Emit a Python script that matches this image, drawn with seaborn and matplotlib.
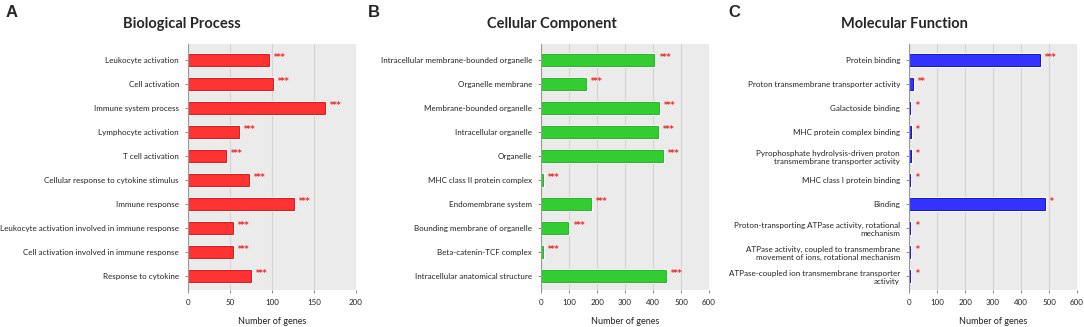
import pandas as pd
import seaborn as sns
import matplotlib.pyplot as plt
import matplotlib.patheffects as pe

bp_terms = ['Leukocyte activation', 'Cell activation', 'Immune system process',
            'Lymphocyte activation', 'T cell activation',
            'Cellular response to cytokine stimulus', 'Immune response',
            'Leukocyte activation involved in immune response',
            'Cell activation involved in immune response', 'Response to cytokine']
bp_counts = [96, 101, 163, 61, 45, 73, 126, 54, 54, 75]
bp_stars = ['***'] * 10

cc_terms = ['Intracellular membrane-bounded organelle', 'Organelle membrane',
            'Membrane-bounded organelle', 'Intracellular organelle', 'Organelle',
            'MHC class II protein complex', 'Endomembrane system',
            'Bounding membrane of organelle', 'Beta-catenin-TCF complex',
            'Intracellular anatomical structure']
cc_counts = [405, 160, 422, 418, 435, 6, 178, 98, 6, 447]
cc_stars = ['***'] * 10

mf_terms = ['Protein binding', 'Proton transmembrane transporter activity',
            'Galactoside binding', 'MHC protein complex binding',
            'Pyrophosphate hydrolysis-driven proton\ntransmembrane transporter activity',
            'MHC class I protein binding', 'Binding',
            'Proton-transporting ATPase activity, rotational\nmechanism',
            'ATPase activity, coupled to transmembrane\nmovement of ions, rotational mechanism',
            'ATPase-coupled ion transmembrane transporter\nactivity']
mf_counts = [466, 13, 5, 7, 7, 5, 484, 5, 5, 5]
mf_stars = ['***', '**', '*', '*', '*', '*', '*', '*', '*', '*']

sns.set_style('white')
plt.rcParams['font.family'] = ['Lato', 'DejaVu Sans']

fig = plt.figure(figsize=(10.84, 3.27), dpi=100)

# letter, title, terms, counts, stars, colour, edge, xmax, step, axes left, title x, letter x
panels = [
    ('A', 'Biological Process', bp_terms, bp_counts, bp_stars, '#ff3333', '#ee1111', 200, 50, 0.1734, 0.168, 0.005),
    ('B', 'Cellular Component', cc_terms, cc_counts, cc_stars, '#33cc33', '#22bb22', 600, 100, 0.4991, 0.509, 0.339),
    ('C', 'Molecular Function', mf_terms, mf_counts, mf_stars, '#3333ff', '#1111dd', 600, 100, 0.8386, 0.834, 0.672),
]

for letter, title, terms, counts, stars, col, edge, xmax, step, left, tx, lx in panels:
    ax = fig.add_axes([left, 0.113, 0.155, 0.752])
    df = pd.DataFrame({'term': terms, 'count': counts})
    ax.set_facecolor('#ebebeb')
    sns.barplot(data=df, x='count', y='term', orient='h', color=col, saturation=1,
                width=0.48, edgecolor=edge, linewidth=0.7, ax=ax)
    for p in ax.patches:
        p.set_path_effects([pe.Stroke(linewidth=2.2, foreground='white'), pe.Normal()])
    ax.set_xlim(0, xmax)
    ax.set_ylim(9.58, -0.67)
    ax.set_xticks(range(0, xmax + 1, step))
    ax.xaxis.grid(True, color='#d4d4d4', linewidth=0.8)
    ax.set_axisbelow(True)
    for s in ['top', 'right', 'bottom']:
        ax.spines[s].set_visible(False)
    ax.spines['left'].set_color('#999999')
    ax.spines['left'].set_linewidth(0.8)
    ax.tick_params(axis='both', length=2.5, width=0.6, color='#777777',
                   labelsize=5.8, labelcolor='#222222')
    ax.tick_params(axis='x', bottom=True, pad=4)
    ax.tick_params(axis='y', left=True, pad=4)
    for lab in ax.get_yticklabels():
        lab.set_linespacing(1.2)
    ax.set_ylabel('')
    ax.set_xlabel('Number of genes', fontsize=6.5, labelpad=8, color='#222222')
    for i, (v, s) in enumerate(zip(counts, stars)):
        ax.text(v + xmax * 0.03, i - 0.12, s, color='#ee2222', fontsize=5.5,
                fontweight='bold', ha='left', va='center', family='DejaVu Sans')
    fig.text(tx, 1 - 28 / 327, title, fontsize=10.5, fontweight='bold',
             ha='center', va='baseline')
    fig.text(lx, 0.985, letter, fontsize=12, fontweight='bold',
             ha='left', va='top', family='Liberation Sans')

fig.savefig('out.png', dpi=100)
